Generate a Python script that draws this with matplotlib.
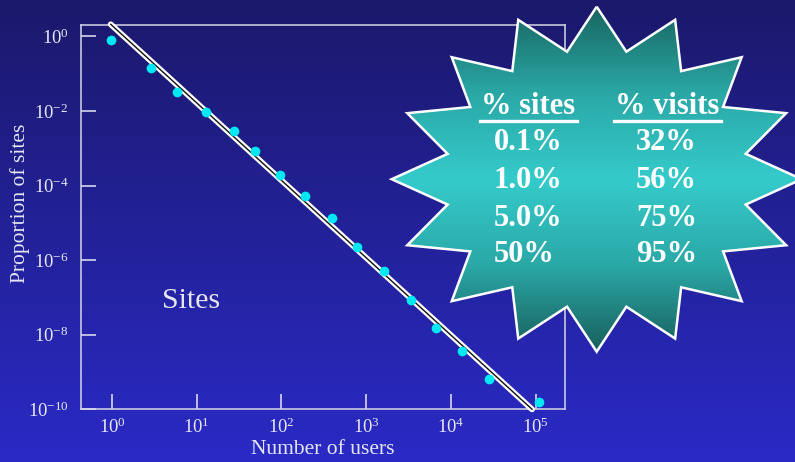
import numpy as np
import matplotlib
matplotlib.use("Agg")
import matplotlib.pyplot as plt
from matplotlib.patches import Polygon
from matplotlib.colors import LinearSegmentedColormap

plt.rcParams["font.family"] = ["Liberation Serif", "DejaVu Serif"]
plt.rcParams["mathtext.fontset"] = "custom"
plt.rcParams["mathtext.rm"] = "Liberation Serif"
plt.rcParams["mathtext.it"] = "Liberation Serif:italic"
plt.rcParams["mathtext.bf"] = "Liberation Serif:bold"

# Distribution of users per site (binned)
users = [0.97, 2.89, 5.9, 12.9, 27.4, 48.4, 96, 190, 392, 787,
         1640, 3420, 6740, 13700, 28000, 111000]
proportion = [0.815, 0.139, 0.0316, 0.0092, 0.00283, 8.5e-4, 1.9e-4, 5.2e-5,
              1.33e-5, 2.2e-6, 5.1e-7, 8.7e-8, 1.5e-8, 3.7e-9, 6.5e-10, 1.6e-10]

# Power-law fit line endpoints
fit_users = [0.966, 91000]
fit_proportion = [2.11, 1.0e-10]

x_ticks = [1e0, 1e1, 1e2, 1e3, 1e4, 1e5]
x_tick_labels = [r"$10^{0}$", r"$10^{1}$", r"$10^{2}$", r"$10^{3}$", r"$10^{4}$", r"$10^{5}$"]
y_ticks = [1e0, 1e-2, 1e-4, 1e-6, 1e-8, 1e-10]
y_tick_labels = [r"$10^{0}$", r"$10^{-2}$", r"$10^{-4}$", r"$10^{-6}$", r"$10^{-8}$", r"$10^{-10}$"]

# Concentration table shown in the starburst
pct_sites = ["0.1%", "1.0%", "5.0%", "50%"]
pct_visits = ["32%", "56%", "75%", "95%"]

W, H = 795, 462
fig = plt.figure(figsize=(W / 100, H / 100), dpi=100)

# Background vertical gradient
bg = fig.add_axes([0, 0, 1, 1], zorder=0)
bg_cmap = LinearSegmentedColormap.from_list("bg", ["#1b196b", "#2a2ac6"])
bg.imshow(np.linspace(0, 1, 256).reshape(-1, 1), aspect="auto", cmap=bg_cmap,
          extent=[0, 1, 0, 1], origin="upper")
bg.set_axis_off()

# Main log-log axes
ax = fig.add_axes([81 / W, 1 - 409.3 / H, (565 - 81) / W, (409.3 - 25.3) / H], zorder=1)
ax.patch.set_visible(False)
ax.set_xscale("log")
ax.set_yscale("log")
ax.set_xlim(10 ** -0.366, 10 ** 5.348)
ax.set_ylim(1e-10, 10 ** 0.298)

fg = "#e6e6f2"
for s in ax.spines.values():
    s.set_color("#d6d6e6")
    s.set_linewidth(1.1)

ax.xaxis.set_major_locator(matplotlib.ticker.FixedLocator(x_ticks))
ax.yaxis.set_major_locator(matplotlib.ticker.FixedLocator(y_ticks))
ax.xaxis.set_minor_locator(matplotlib.ticker.NullLocator())
ax.yaxis.set_minor_locator(matplotlib.ticker.NullLocator())
ax.set_xticklabels(x_tick_labels)
ax.set_yticklabels(y_tick_labels)
ax.tick_params(which="major", direction="in", length=11, width=1.1, color=fg,
               labelcolor=fg, labelsize=13.5)
ax.tick_params(axis="x", pad=6)
ax.tick_params(axis="y", pad=9)

# Fit line: white band with a dark core
ax.plot(fit_users, fit_proportion, color="white", lw=4.2, solid_capstyle="round",
        clip_on=False, zorder=3)
ax.plot(fit_users, fit_proportion, color="#111111", lw=1.0, clip_on=False, zorder=4)

ax.plot(users, proportion, "o", color="#00e8f2", ms=7, mec="none", zorder=5, clip_on=False)

fig.text(323 / W, 1 - 450 / H, "Number of users", color=fg, fontsize=15.5,
         ha="center", va="center")
fig.text(20 / W, 1 - 203 / H, "Proportion of sites", color=fg, fontsize=15.5,
         ha="center", va="center", rotation=90)
fig.text(191.5 / W, 1 - 301 / H, "Sites", color=fg, fontsize=21.5,
         ha="center", va="center")

# Starburst overlay in pixel coordinates
ov = fig.add_axes([0, 0, 1, 1], zorder=2)
ov.set_xlim(0, W)
ov.set_ylim(H, 0)
ov.set_axis_off()
ov.patch.set_visible(False)

cx, cy = 596.7, 179.2
rxo, ryo = 205, 172.5
rxi, ryi = 152, 130
n = 16
verts = []
for k in range(n):
    a = np.pi / 2 + 2 * np.pi * k / n
    verts.append((cx + rxo * np.cos(a), cy - ryo * np.sin(a)))
    b = a + np.pi / n
    verts.append((cx + rxi * np.cos(b), cy - ryi * np.sin(b)))

star = Polygon(verts, closed=True, facecolor="none", edgecolor="white", lw=1.8, zorder=3)
ov.add_patch(star)
star_cmap = LinearSegmentedColormap.from_list(
    "star", ["#186660", "#2aa8a6", "#35cbcb", "#2aa8a6", "#185f5c"])
grad = ov.imshow(np.linspace(0, 1, 256).reshape(-1, 1), aspect="auto", cmap=star_cmap,
                 extent=[cx - rxo, cx + rxo, cy + ryo, cy - ryo], zorder=2)
clip = Polygon(verts, closed=True, transform=ov.transData)
grad.set_clip_path(clip)
ov.set_xlim(0, W)
ov.set_ylim(H, 0)

tk = dict(color="white", fontsize=22, fontweight="bold", zorder=5)
ov.text(528.5, 107, "% sites", ha="center", va="center", **tk)
ov.text(667.5, 107, "% visits", ha="center", va="center", **tk)
ov.plot([480, 577], [120.5, 120.5], color="white", lw=2.4, zorder=5)
ov.plot([614, 721], [120.5, 120.5], color="white", lw=2.4, zorder=5)
row_y = [143, 180.5, 218, 255]
for yv, s_txt, v_txt in zip(row_y, pct_sites, pct_visits):
    ov.text(494, yv, s_txt, ha="left", va="center", **tk)
    ov.text(636, yv, v_txt, ha="left", va="center", **tk)

fig.savefig("out.png", dpi=100)
